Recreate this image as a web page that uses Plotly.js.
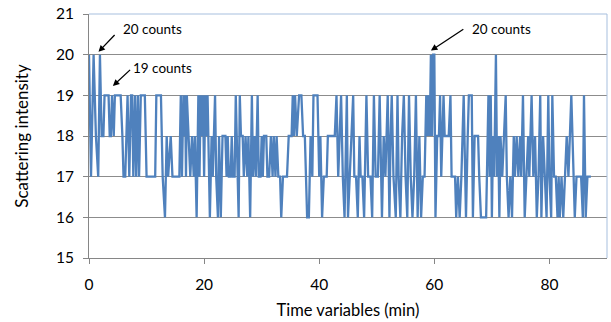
<!DOCTYPE html>
<html>
<head>
<meta charset="utf-8">
<script src="https://cdn.plot.ly/plotly-3.0.1.min.js"></script>
<style>html,body{margin:0;padding:0;background:#fff;}#chart{width:611px;height:322px;}</style>
</head>
<body>
<div id="chart"></div>
<script>
// Time (min) of each vertex of the trace
const timeMin = [
0,0.35,0.8,1.2,1.6,1.9,2.2,2.5,2.7,3.4,3.6,3.8,4.0,4.3,4.5,5.5,5.8,6.0,6.3,6.7,7.0,7.3,7.5,7.7,8.0,8.2,8.5,8.7,9.0,9.7,10.0,11.5,
11.7,12.5,12.8,13.2,13.5,13.75,14.2,14.5,15.7,15.95,16.15,16.4,16.55,16.7,16.85,17.0,17.3,17.6,17.9,18.2,18.4,18.7,19.0,19.2,19.4,19.6,19.8,20.0,20.2,20.4,20.6,20.8,
21.0,21.3,21.5,21.9,22.1,22.4,22.6,22.9,23.2,23.7,23.9,24.1,24.3,24.6,24.8,25.0,25.3,25.5,25.8,26.0,26.2,26.4,26.7,26.9,27.2,27.5,27.7,28.0,28.3,28.5,28.8,29.0,29.3,29.5,29.8,30.0,30.2,30.4,30.8,31.0,31.3,31.6,31.9,
32.1,32.4,32.6,32.9,33.2,33.4,33.7,34.4,34.7,35.2,35.4,35.6,35.8,36.1,36.5,36.9,37.2,37.5,37.7,37.9,38.2,38.5,38.8,39.0,39.7,40.0,40.2,40.5,40.8,41.3,41.5,42.7,
43.0,43.3,43.8,44.1,44.4,44.6,44.8,45.0,45.3,45.9,46.1,46.4,46.7,47.0,47.2,47.5,47.8,48.2,48.5,48.9,49.2,49.5,49.8,50.2,50.5,50.9,51.2,51.5,51.9,52.2,52.4,52.6,52.9,53.3,53.6,53.8,
54.1,54.4,54.7,55.0,55.3,55.6,55.9,56.2,56.5,56.8,57.1,57.4,57.7,58.0,58.3,58.6,58.8,59.0,59.2,59.4,59.6,59.8,60.0,60.2,60.5,60.8,61.0,61.2,61.6,61.8,62.5,62.8,63.0,63.6,63.8,64.1,64.4,
64.7,65.1,65.3,65.5,65.8,66.0,66.5,66.7,67.0,67.6,67.8,68.1,69.0,69.2,69.4,69.6,69.8,70.0,70.2,70.4,70.7,70.9,71.1,71.3,71.5,71.8,72.1,72.4,72.6,72.9,73.2,73.5,73.8,74.0,74.3,74.6,74.9,75.1,
75.4,75.7,76.0,76.3,76.5,76.9,77.2,77.5,77.8,78.1,78.4,78.6,78.9,79.2,79.5,79.8,80.0,80.3,80.5,80.8,81.1,81.4,81.6,81.8,82.1,82.4,82.7,83.0,83.3,83.5,83.8,84.0,84.4,84.7,85.5,85.8,86.0,86.3,86.6,87.2
];
// Scattering intensity (counts) at each vertex
const intensity = [
20,17,20,18,17,20,18,18,19,19,18,18,19,18,19,19,18,17,17,19,17,19,19,17,19,17,19,17,19,19,17,17,
19,19,17,16,18,17,18,17,17,19,17,19,18,19,17,19,18,17,18,17,18,16,19,17,19,18,19,17,19,18,19,17,
16,18,17,19,17,16,18,16,18,18,17,18,17,17,18,17,17,19,17,16,19,18,18,17,18,17,18,16,19,17,18,17,19,17,17,18,17,18,18,17,17,18,17,
18,17,18,17,17,16,17,17,18,18,19,18,19,18,19,19,18,18,17,16,16,18,17,19,19,17,18,16,17,17,18,18,
19,17,19,17,16,18,19,16,17,19,17,17,16,18,17,17,16,19,17,17,16,19,17,17,19,16,18,17,19,16,18,19,17,16,19,17,
16,18,19,17,16,19,17,16,17,19,16,18,16,17,17,19,18,19,18,20,18,20,20,16,18,18,19,17,19,18,18,19,17,17,16,17,16,
17,19,17,16,18,19,19,16,18,18,17,16,16,18,19,17,19,16,18,17,20,17,18,16,18,17,18,19,17,16,17,16,18,17,18,17,18,17,
19,16,17,18,17,19,17,18,16,17,19,16,18,17,16,19,17,16,19,17,17,16,17,16,17,16,17,18,17,18,19,18,16,17,17,16,19,16,17,17
];
// Axis tick values
const xTicks = [0, 20, 40, 60, 80];
const yTicks = [15, 16, 17, 18, 19, 20, 21];
// Annotation labels
const labelTexts = ["20 counts", "19 counts", "20 counts"];
const labelX = [11.1, 12.8, 71.7];
const labelY = [20.62, 19.66, 20.62];
// Arrows: head (x,y) and tail (ax,ay)
const arrowHeadX = [1.65, 4.15, 59.4];
const arrowHeadY = [20.07, 19.23, 20.1];
const arrowTailX = [4.7, 7.4, 65.3];
const arrowTailY = [20.52, 19.66, 20.65];

const FONT = "Lato, 'Open Sans', sans-serif";
const annotations = [];
for (let i = 0; i < labelTexts.length; i++) {
  annotations.push({x: labelX[i], y: labelY[i], xref: 'x', yref: 'y', text: labelTexts[i],
    showarrow: false, font: {family: FONT, size: 13.5, color: '#000'}});
  annotations.push({x: arrowHeadX[i], y: arrowHeadY[i], xref: 'x', yref: 'y',
    ax: arrowTailX[i], ay: arrowTailY[i], axref: 'x', ayref: 'y', text: '',
    showarrow: true, arrowhead: 2, arrowsize: 1, arrowwidth: 1.3, arrowcolor: '#000'});
}

const trace = {x: timeMin, y: intensity, type: 'scatter', mode: 'lines',
  line: {color: '#4F81BD', width: 2.3}, hoverinfo: 'skip'};

const layout = {
  width: 611, height: 322,
  margin: {l: 89, r: 4, t: 14, b: 64},
  paper_bgcolor: '#fff', plot_bgcolor: '#fff',
  showlegend: false,
  font: {family: FONT, size: 15, color: '#000'},
  xaxis: {range: [0, 90], tickvals: xTicks, ticktext: xTicks.map(String),
    showgrid: false, zeroline: false, showline: true, linecolor: '#868686', linewidth: 1,
    ticks: 'outside', ticklen: 5, tickcolor: '#868686', tickfont: {family: FONT, size: 15.5},
    ticklabelstandoff: 7,
    title: {text: 'Time variables (min)', font: {family: FONT, size: 16.5}, standoff: 12}},
  yaxis: {range: [15, 21], tickvals: yTicks, ticktext: yTicks.map(String),
    showgrid: true, gridcolor: '#8C8C8C', gridwidth: 1, zeroline: false,
    showline: true, linecolor: '#868686', linewidth: 1,
    ticks: 'outside', ticklen: 5, tickcolor: '#868686', tickfont: {family: FONT, size: 15.5},
    ticklabelstandoff: 6,
    title: {text: 'Scattering intensity', font: {family: FONT, size: 17}, standoff: 22}},
  shapes: [
    {type: 'line', xref: 'paper', yref: 'paper', x0: 0, x1: 1, y0: 1, y1: 1, layer: 'above', line: {color: '#A7BFDE', width: 1}},
    {type: 'line', xref: 'paper', yref: 'paper', x0: 1, x1: 1, y0: 0, y1: 1, layer: 'above', line: {color: '#A7BFDE', width: 1}}
  ],
  annotations: annotations
};
Plotly.newPlot('chart', [trace], layout, {staticPlot: true, displayModeBar: false});
</script>
</body>
</html>
